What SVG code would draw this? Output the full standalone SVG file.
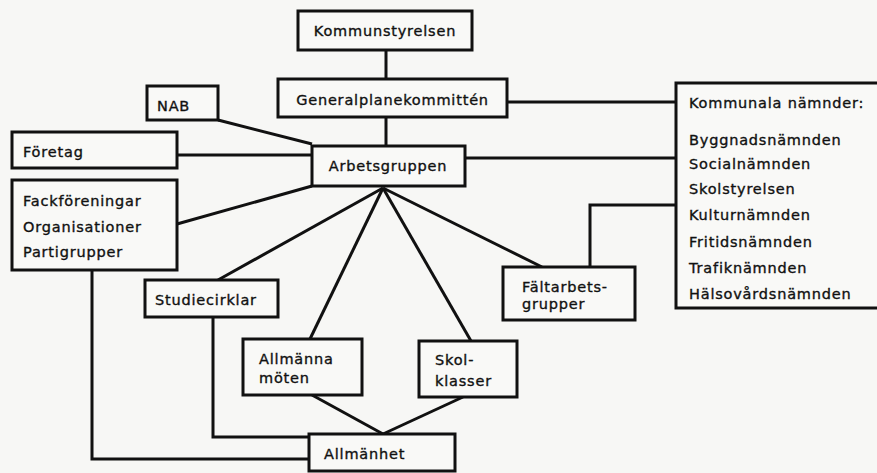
<svg xmlns="http://www.w3.org/2000/svg" width="877" height="473" viewBox="0 0 877 473">
<style>
.bg{fill:#f7f7f5}
.box{fill:#f9f9f7;stroke:#111;stroke-width:3}
.ln{fill:none;stroke:#111;stroke-width:3;stroke-linejoin:miter}
text{font-family:"DejaVu Sans","Liberation Sans",sans-serif;font-size:14.5px;letter-spacing:0.8px;fill:#111;stroke:#111;stroke-width:0.35}
.m{text-anchor:middle}
</style>
<rect class="bg" x="0" y="0" width="877" height="473"/>
<g id="connectors">
<line class="ln" x1="386" y1="50" x2="386" y2="79"/>
<line class="ln" x1="386" y1="117" x2="386" y2="146"/>
<line class="ln" x1="507" y1="102" x2="676" y2="102"/>
<line class="ln" x1="218" y1="120" x2="312" y2="144"/>
<line class="ln" x1="177" y1="155" x2="312" y2="155"/>
<line class="ln" x1="177" y1="224" x2="312" y2="186"/>
<line class="ln" x1="465" y1="158" x2="676" y2="158"/>
<line class="ln" x1="383" y1="188" x2="218" y2="280"/>
<line class="ln" x1="383" y1="188" x2="310" y2="339"/>
<line class="ln" x1="383" y1="188" x2="471" y2="341"/>
<line class="ln" x1="383" y1="188" x2="542" y2="267"/>
<polyline class="ln" points="590,267 590,205 676,205"/>
<line class="ln" x1="312" y1="395" x2="383" y2="434"/>
<line class="ln" x1="463" y1="397" x2="383" y2="434"/>
<polyline class="ln" points="213,317 213,437 309,437"/>
<polyline class="ln" points="92,270 92,459 309,459"/>
</g>
<g id="kommunstyrelsen"><rect class="box" x="298" y="11" width="174" height="39"/><text class="m" x="385" y="36">Kommunstyrelsen</text></g>
<g id="generalplanekommitten"><rect class="box" x="278" y="79" width="229" height="38"/><text class="m" x="392.5" y="105">Generalplanekommittén</text></g>
<g id="arbetsgruppen"><rect class="box" x="312" y="146" width="153" height="40"/><text class="m" x="388" y="171">Arbetsgruppen</text></g>
<g id="nab"><rect class="box" x="147" y="86" width="71" height="34"/><text x="157" y="111">NAB</text></g>
<g id="foretag"><rect class="box" x="12" y="132" width="165" height="36"/><text x="23" y="157">Företag</text></g>
<g id="fackforeningar"><rect class="box" x="12" y="180" width="165" height="90"/><text x="23" y="206">Fackföreningar</text><text x="23" y="232">Organisationer</text><text x="23" y="257">Partigrupper</text></g>
<g id="studiecirklar"><rect class="box" x="145" y="280" width="133" height="37"/><text x="155" y="305">Studiecirklar</text></g>
<g id="faltarbetsgrupper"><rect class="box" x="503" y="267" width="132" height="53"/><text x="522" y="292">Fältarbets-</text><text x="522" y="309">grupper</text></g>
<g id="allmanna-moten"><rect class="box" x="243" y="339" width="119" height="56"/><text x="259" y="364">Allmänna</text><text x="259" y="383">möten</text></g>
<g id="skolklasser"><rect class="box" x="419" y="341" width="98" height="56"/><text x="435" y="365">Skol-</text><text x="435" y="386">klasser</text></g>
<g id="allmanhet"><rect class="box" x="309" y="434" width="146" height="37"/><text x="324" y="459">Allmänhet</text></g>
<g id="kommunala-namnder"><rect class="box" x="676" y="83" width="204" height="225"/>
<text x="689" y="108">Kommunala nämnder:</text>
<text x="689" y="145">Byggnadsnämnden</text>
<text x="689" y="169">Socialnämnden</text>
<text x="689" y="194">Skolstyrelsen</text>
<text x="689" y="220">Kulturnämnden</text>
<text x="689" y="247">Fritidsnämnden</text>
<text x="689" y="273">Trafiknämnden</text>
<text x="689" y="299">Hälsovårdsnämnden</text>
</g>
</svg>
